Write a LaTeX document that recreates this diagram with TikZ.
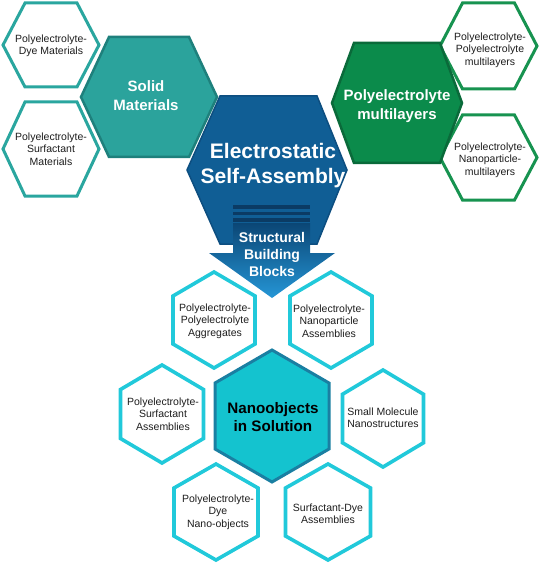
\documentclass[tikz,border=0pt]{standalone}
\usepackage{fontspec}
\setmainfont{Liberation Sans}
\definecolor{tealfill}{HTML}{2BA39C}
\definecolor{tealborder}{HTML}{1E807C}
\definecolor{tealline}{HTML}{2AA69F}
\definecolor{greenfill}{HTML}{0B8B4B}
\definecolor{greenborder}{HTML}{0A6A3A}
\definecolor{greenline}{HTML}{179350}
\definecolor{bluefill}{HTML}{105E95}
\definecolor{blueborder}{HTML}{0D4E80}
\definecolor{arrowtop}{HTML}{0B4675}
\definecolor{arrowbot}{HTML}{2596D6}
\definecolor{barcol}{HTML}{0B3B64}
\definecolor{cyanline}{HTML}{21C9DA}
\definecolor{nanofill}{HTML}{14C3CF}
\definecolor{nanoborder}{HTML}{1A7FA2}
\definecolor{smalltext}{HTML}{1E1E1E}
\tikzset{
  smalltxt/.style={align=center, text=smalltext, font=\fontsize{10.5}{12.3}\selectfont},
  bigtxt/.style={align=center, text=white, font=\fontsize{15}{19}\selectfont\bfseries},
  tealhex/.style={draw=tealline, line width=3pt, fill=white},
  greenhex/.style={draw=greenline, line width=3pt, fill=white},
  cyanhex/.style={draw=cyanline, line width=3.6pt, fill=white},
}
% general flat-top hexagon: [style]{x}{y}{half-width}{half top edge}{half-height}
\newcommand\ghex[6][]{\path[#1,shift={(#2,#3)}] (-#4,0) -- (-#5,-#6) -- (#5,-#6) -- (#4,0) -- (#5,#6) -- (-#5,#6) -- cycle;}
% pointy-top hexagon: [style]{x}{y}{half-width}{radius}
\newcommand\phex[5][]{\path[#1,shift={(#2,#3)}] (0,-#5) -- (#4,-#5/2) -- (#4,#5/2) -- (0,#5) -- (-#4,#5/2) -- (-#4,-#5/2) -- cycle;}
\begin{document}
\begin{tikzpicture}[x=1pt,y=-1pt]
\useasboundingbox (0,0) rectangle (540,564);
% top-left small hexes
\ghex[tealhex]{51}{45}{48}{26}{42}
\ghex[tealhex]{51}{149}{48}{26}{47}
\node[smalltxt] (pdm) at (51,45.5) {Polyelectrolyte-\\Dye Materials};
\node[smalltxt] (psm) at (51,149) {Polyelectrolyte-\\Surfactant\\Materials};
% top-right small hexes
\ghex[greenhex]{488.5}{46}{48.5}{26}{43}
\ghex[greenhex]{488.5}{157.5}{48.5}{26}{42.5}
\node[smalltxt] (ppm) at (490,50) {Polyelectrolyte-\\Polyelectrolyte\\multilayers};
\node[smalltxt] (pnm) at (490,160) {Polyelectrolyte-\\Nanoparticle-\\multilayers};
% Solid Materials
\ghex[fill=tealfill, draw=tealborder, line width=2.5pt]{149}{97}{68}{40}{60}
\node[bigtxt] (solid) at (146,96) {Solid\\Materials};
% Polyelectrolyte multilayers
\ghex[fill=greenfill, draw=greenborder, line width=2.5pt]{397}{103}{65}{43}{60}
\node[bigtxt] (pem) at (397,106) {Polyelectrolyte\\multilayers};
% Electrostatic Self-Assembly
\path[fill=bluefill, draw=blueborder, line width=1.5pt] (187,170) -- (220,96) -- (317,96) -- (347,170) -- (317,244) -- (220,244) -- cycle;
\node[align=center, text=white, font=\fontsize{21}{25}\selectfont\bfseries] (esa) at (273,166) {Electrostatic\\Self-Assembly};
% arrow
\fill[barcol] (233,205) rectangle (310,208.5);
\fill[barcol] (233,211.5) rectangle (310,215);
\fill[barcol] (233,218) rectangle (310,221.5);
\shade[top color=arrowtop, bottom color=arrowbot] (233,223) -- (310,223) -- (310,253) -- (335,253) -- (272,298) -- (209,253) -- (233,253) -- cycle;
\node[align=center, text=white, font=\fontsize{14}{17}\selectfont\bfseries] (sbb) at (272,254) {Structural\\Building\\Blocks};
% bottom hexes
\phex[cyanhex]{214}{320}{41}{48}
\phex[cyanhex]{331}{320}{41}{48}
\phex[cyanhex]{162}{414}{41.5}{49}
\phex[cyanhex]{383}{418.5}{40.5}{48.5}
\phex[cyanhex]{216}{512}{42}{48}
\phex[cyanhex]{328}{512}{42.5}{48}
\phex[fill=nanofill, draw=nanoborder, line width=3pt]{272}{416}{57}{66}
\node[smalltxt] (ppa) at (215,321) {Polyelectrolyte-\\Polyelectrolyte\\Aggregates};
\node[smalltxt] (pna) at (329,321) {Polyelectrolyte-\\Nanoparticle\\Assemblies};
\node[smalltxt] (psa) at (163,414) {Polyelectrolyte-\\Surfactant\\Assemblies};
\node[smalltxt] (smn) at (383,417.5) {Small Molecule\\Nanostructures};
\node[smalltxt] (pdn) at (218,512) {Polyelectrolyte-\\Dye\\Nano-objects};
\node[smalltxt] (sda) at (328,514) {Surfactant-Dye\\Assemblies};
\node[align=center, text=black, font=\fontsize{15.2}{18.3}\selectfont\bfseries] (nis) at (273,417) {Nanoobjects\\in Solution};
\end{tikzpicture}
\end{document}
